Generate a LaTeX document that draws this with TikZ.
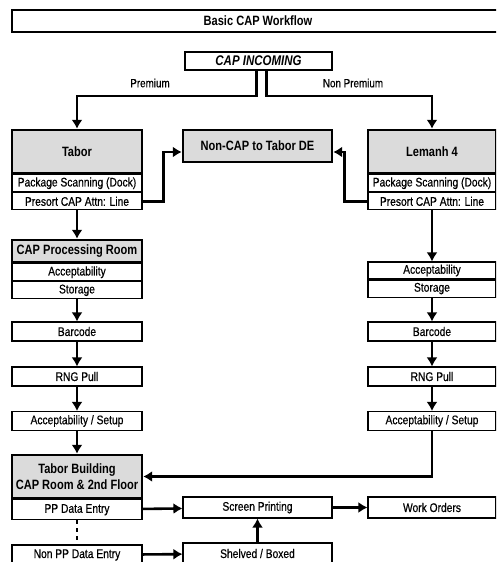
\documentclass[tikz,border=0pt]{standalone}
\usepackage{fontspec}
\setmainfont{Liberation Sans}[FakeStretch=0.82, UprightFeatures={FakeBold=0.5}]
\usepackage{tikz}
\usetikzlibrary{arrows.meta,positioning}

\begin{document}
\begin{tikzpicture}[
    x=1pt, y=-1pt,
    >=Latex,
    row/.style={draw, line width=1.1pt, fill=white, minimum height=17pt, inner sep=0pt, font=\fontsize{12.5}{13}\selectfont},
    lrow/.style={row, minimum width=130pt},
    rrow/.style={row, minimum width=128pt},
    mrow/.style={row, minimum width=149pt},
    head/.style={draw, line width=2.4pt, fill=black!14, inner sep=0pt, align=center, font=\bfseries\fontsize{13.5}{16}\selectfont},
    lbl/.style={font=\fontsize{12}{13}\selectfont},
    arrow/.style={-{Latex[length=9pt,width=11pt]}, line width=2.6pt}
]
\clip (0,0) rectangle (496,562);
\fill[white] (0,0) rectangle (496,562);

% Title
\node[draw, line width=2pt, minimum width=492pt, minimum height=22pt, inner sep=0pt, font=\bfseries\fontsize{13.5}{15}\selectfont] (title) at (258,21) {Basic CAP Workflow};
\node[draw, line width=2pt, minimum width=147pt, minimum height=18pt, inner sep=0pt, font=\bfseries\itshape\fontsize{14}{15}\selectfont] (incoming) at (258.5,61) {CAP INCOMING};
\node[lbl] (prem) at (150,83) {Premium};
\node[lbl] (nonprem) at (353,83) {Non Premium};

% Left column
\node[head, minimum width=130pt, minimum height=43pt] (tabor) at (77,151.5) {Tabor};
\node[lrow, below=0pt of tabor] (tabscan) {Package Scanning (Dock)};
\node[lrow, below=0pt of tabscan] (tabpre) {Presort CAP Attn: Line};
\node[head, minimum width=130pt, minimum height=22pt] (capproc) at (77,251) {CAP Processing Room};
\node[lrow, below=0pt of capproc] (tabacc) {Acceptability};
\node[lrow, below=0pt of tabacc] (tabsto) {Storage};
\node[lrow, minimum height=19pt] (tbar) at (77,331.5) {Barcode};
\node[lrow, minimum height=19pt] (trng) at (77,376.5) {RNG Pull};
\node[lrow, minimum height=19pt] (tset) at (77,421) {Acceptability / Setup};
\node[head, minimum width=130pt, minimum height=43pt] (tbuild) at (77,476.5) {Tabor Building\\CAP Room \& 2nd Floor};
\node[lrow, minimum height=20pt, below=0pt of tbuild] (ppde) {PP Data Entry};
\node[lrow, minimum height=20pt] (nonpp) at (77,555) {Non PP Data Entry};

% Middle column
\node[head, minimum width=149pt, minimum height=32pt] (noncap) at (257.5,146) {Non-CAP to Tabor DE};
\node[mrow, minimum height=21pt] (screen) at (257.5,507.5) {Screen Printing};
\node[mrow, minimum height=21pt] (shelved) at (257.5,553.5) {Shelved / Boxed};

% Right column
\node[head, minimum width=128pt, minimum height=43pt] (lemanh) at (432,151.5) {Lemanh 4};
\node[rrow, below=0pt of lemanh] (lemscan) {Package Scanning (Dock)};
\node[rrow, below=0pt of lemscan] (lempre) {Presort CAP Attn: Line};
\node[rrow] (lemacc) at (432,270.5) {Acceptability};
\node[rrow, below=0pt of lemacc] (lemsto) {Storage};
\node[rrow, minimum height=19pt] (lbar) at (432,331.5) {Barcode};
\node[rrow, minimum height=19pt] (lrng) at (432,376.5) {RNG Pull};
\node[rrow, minimum height=19pt] (lset) at (432,421) {Acceptability / Setup};
\node[rrow, minimum height=21pt] (work) at (432,507.5) {Work Orders};

% Incoming split
\draw[arrow] ([xshift=-2pt]incoming.south) -- ++(0,25) -| (tabor.north);
\draw[arrow] ([xshift=8pt]incoming.south) -- ++(0,25) -| (lemanh.north);
% to Non-CAP
\draw[arrow] (tabpre.east) -- ++(21,0) |- ([yshift=-6pt]noncap.west);
\draw[arrow] (lempre.west) -- ++(-23,0) |- ([yshift=-6pt]noncap.east);
% left chain
\draw[arrow] (tabpre) -- (capproc);
\draw[arrow] (tabsto) -- (tbar);
\draw[arrow] (tbar) -- (trng);
\draw[arrow] (trng) -- (tset);
\draw[arrow] (tset) -- (tbuild);
% right chain
\draw[arrow] (lempre) -- (lemacc);
\draw[arrow] (lemsto) -- (lbar);
\draw[arrow] (lbar) -- (lrng);
\draw[arrow] (lrng) -- (lset);
\draw[arrow] (lset.south) |- (tbuild.east);
% bottom
\draw[arrow] (ppde) -- (screen);
\draw[arrow] (screen) -- (work);
\draw[arrow] (nonpp) -- (shelved);
\draw[arrow] (shelved) -- (screen);
\draw[line width=2.6pt, dash pattern=on 4pt off 4pt] (ppde) -- (nonpp);
\end{tikzpicture}
\end{document}
